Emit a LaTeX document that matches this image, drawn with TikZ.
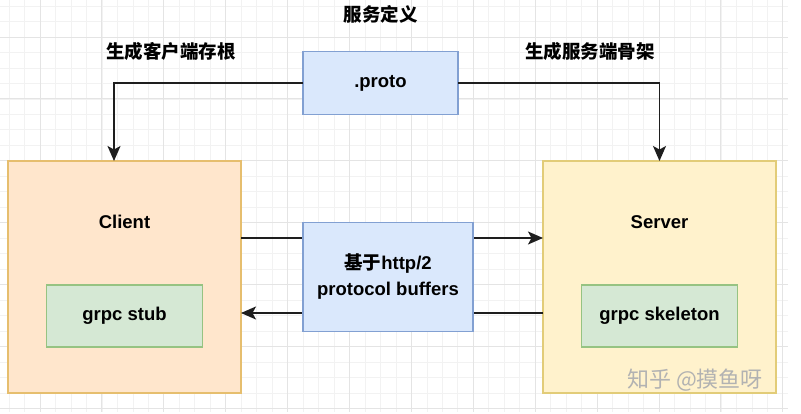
\documentclass[tikz,border=0pt]{standalone}
\usepackage{fontspec}
\setmainfont{Liberation Sans}
\newfontfamily\cjk{Noto Sans CJK SC}
\usetikzlibrary{positioning}
\usetikzlibrary{arrows.meta}

\definecolor{clientfill}{RGB}{255,230,204}
\definecolor{clientdraw}{RGB}{230,190,110}
\definecolor{serverfill}{RGB}{255,242,204}
\definecolor{serverdraw}{RGB}{226,204,120}
\definecolor{bluefill}{RGB}{218,232,252}
\definecolor{bluedraw}{RGB}{130,160,210}
\definecolor{greenfill}{RGB}{213,232,212}
\definecolor{greendraw}{RGB}{150,195,130}
\definecolor{gridminor}{RGB}{242,242,242}
\definecolor{gridmajor}{RGB}{228,228,228}
\definecolor{flowline}{RGB}{30,30,30}

\newcommand\diagfont{\fontsize{18.5}{26}\selectfont\bfseries}

\begin{document}
\begin{tikzpicture}[x=1pt,y=-1pt,
                    outerbox/.style={rectangle,
                                     inner sep=0mm,outer sep=0,
                                     line width=1.2pt,
                                     minimum width=233pt,
                                     minimum height=232pt
                                    },
                    innerbox/.style={rectangle,
                                     inner sep=0mm,outer sep=0,
                                     draw=greendraw, fill=greenfill,
                                     line width=1.2pt,
                                     minimum width=156pt,
                                     minimum height=62pt,
                                     font=\diagfont
                                    },
                    bluebox/.style={rectangle,
                                    inner sep=0mm,outer sep=0,
                                    draw=bluedraw, fill=bluefill,
                                    line width=1.2pt,
                                    font=\diagfont,
                                    align=center
                                   },
                    boxtext/.style={inner sep=0mm, font=\diagfont},
                    flow/.style={
                                 line width=1.5pt,
                                 draw=flowline,
                                 -{Stealth[length=15pt,width=13pt,inset=3.5pt]}
                                }
                   ]
  \useasboundingbox (0,0) rectangle (801,414);

  % grid
  \foreach \i in {0,...,50}
    \draw[gridminor, line width=0.6pt] (9+15.475*\i,0) -- (9+15.475*\i,412);
  \foreach \i in {0,...,26}
    \draw[gridminor, line width=0.6pt] (0,6+15.475*\i) -- (788,6+15.475*\i);
  \foreach \i in {0,...,12}
    \draw[gridmajor, line width=0.9pt] (40+61.9*\i,0) -- (40+61.9*\i,412);
  \foreach \i in {0,...,6}
    \draw[gridmajor, line width=0.9pt] (0,37+61.9*\i) -- (788,37+61.9*\i);

  \node[outerbox, draw=clientdraw, fill=clientfill] (client) at (124.5,277) { };
  \node[outerbox, right=302pt of client, draw=serverdraw, fill=serverfill] (server) { };
  \node[boxtext, below=61pt of client.north, anchor=center] (clienttitle) {Client};
  \node[boxtext, below=61pt of server.north, anchor=center] (servertitle) {Server};
  \node[innerbox, below=124pt of client.north] (stub) {grpc stub};
  \node[innerbox, below=124pt of server.north] (skeleton) {grpc skeleton};

  \draw [flow] ([yshift=39pt]client.east) -- ([yshift=39pt]server.west);
  \draw [flow] ([yshift=-36pt]server.west) -- ([yshift=-36pt]client.east);

  \node[bluebox, right=62pt of client.east, minimum width=170pt, minimum height=109pt] (transport)
       {{\cjk 基于}http/2\\protocol buffers};
  \node[bluebox, above=108pt of transport.north west, anchor=south west,
        minimum width=155pt, minimum height=63pt] (proto) {.proto};

  \draw [flow] (proto.west) -| ([xshift=-10.5pt]client.north);
  \draw [flow] (proto.east) -| (server.north);

  \node[boxtext, above=37pt of proto.north, anchor=center] (definition) {\cjk 服务定义};
  \node[boxtext, left=67pt of proto.north west, anchor=east] (stublabel) {\cjk 生成客户端存根};
  \node[boxtext, right=67pt of proto.north east, anchor=west] (skeletonlabel) {\cjk 生成服务端骨架};

  \node[inner sep=0mm, text=black!30, font=\fontsize{22}{26}\selectfont\cjk] (mark) at (695,380) {知乎 @摸鱼呀};
\end{tikzpicture}
\end{document}
